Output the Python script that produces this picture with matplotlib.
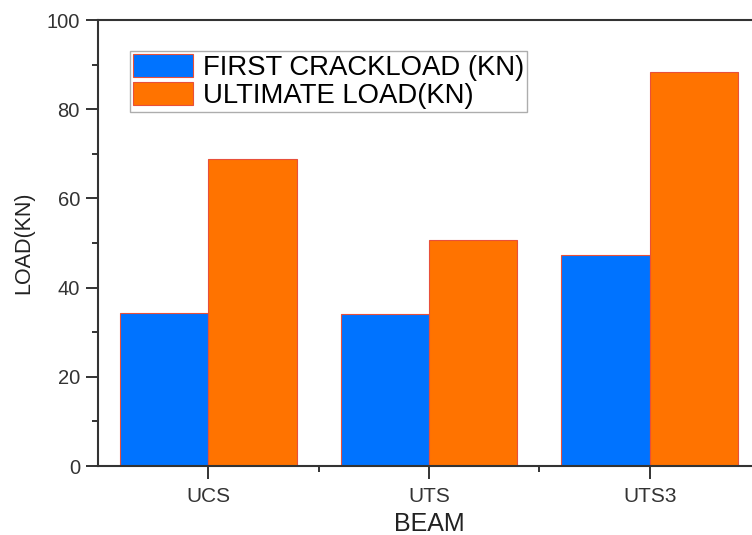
import matplotlib
matplotlib.use("Agg")
import matplotlib.pyplot as plt
import numpy as np
from matplotlib.ticker import MultipleLocator

categories = ["UCS", "UTS", "UTS3"]
first_crack = [34.3, 34.0, 47.3]
ultimate = [68.9, 50.7, 88.4]
series_labels = ["FIRST CRACKLOAD (KN)", "ULTIMATE LOAD(KN)"]

plt.rcParams['font.family'] = ['Liberation Sans', 'DejaVu Sans']

fig = plt.figure(figsize=(7.52, 5.35), dpi=100)
ax = fig.add_axes([98/752, 1-466/535, 662/752, 446/535])

x = np.arange(len(categories))
w = 0.4
ax.bar(x - w/2, first_crack, w, color='#0073FF', edgecolor='#E8503A', linewidth=0.8, label=series_labels[0])
ax.bar(x + w/2, ultimate, w, color='#FF7300', edgecolor='#E8503A', linewidth=0.8, label=series_labels[1])

ax.set_xlim(-0.5, len(categories) - 0.5)
ax.set_ylim(0, 100)
ax.set_xticks(x)
ax.set_xticklabels(categories)
ax.set_xticks(x[:-1] + 0.5, minor=True)
ax.yaxis.set_major_locator(MultipleLocator(20))
ax.yaxis.set_minor_locator(MultipleLocator(10))
ax.tick_params(axis='both', which='major', direction='out', length=9, width=1.4, colors='#333333')
ax.tick_params(axis='both', which='minor', direction='out', length=4, width=1.4, colors='#333333')
ax.tick_params(axis='y', which='major', labelsize=14.5, pad=4, labelcolor='#333333')
ax.tick_params(axis='x', which='major', labelsize=15, pad=6, labelcolor='#333333')
for s in ax.spines.values():
    s.set_linewidth(1.5)
    s.set_color('#333333')

ax.set_xlabel("BEAM", fontsize=18, color='#222222')
ax.set_ylabel("LOAD(KN)", fontsize=15.5, color='#222222')
ax.xaxis.label.set_va('center')
ax.yaxis.label.set_va('center')
ax.xaxis.set_label_coords(0.5, (466-524)/446)
ax.yaxis.set_label_coords((24-98)/662, 0.5)

leg = ax.legend(loc='upper left', bbox_to_anchor=((130-98)/662, (466-51)/446), fontsize=19.8,
                handlelength=2.2, handleheight=0.95, labelspacing=0.02,
                handletextpad=0.35, borderpad=0.1, borderaxespad=0,
                fancybox=False, frameon=True, edgecolor='#999999')
leg.get_frame().set_linewidth(1.0)

fig.savefig("out.png", dpi=100)
